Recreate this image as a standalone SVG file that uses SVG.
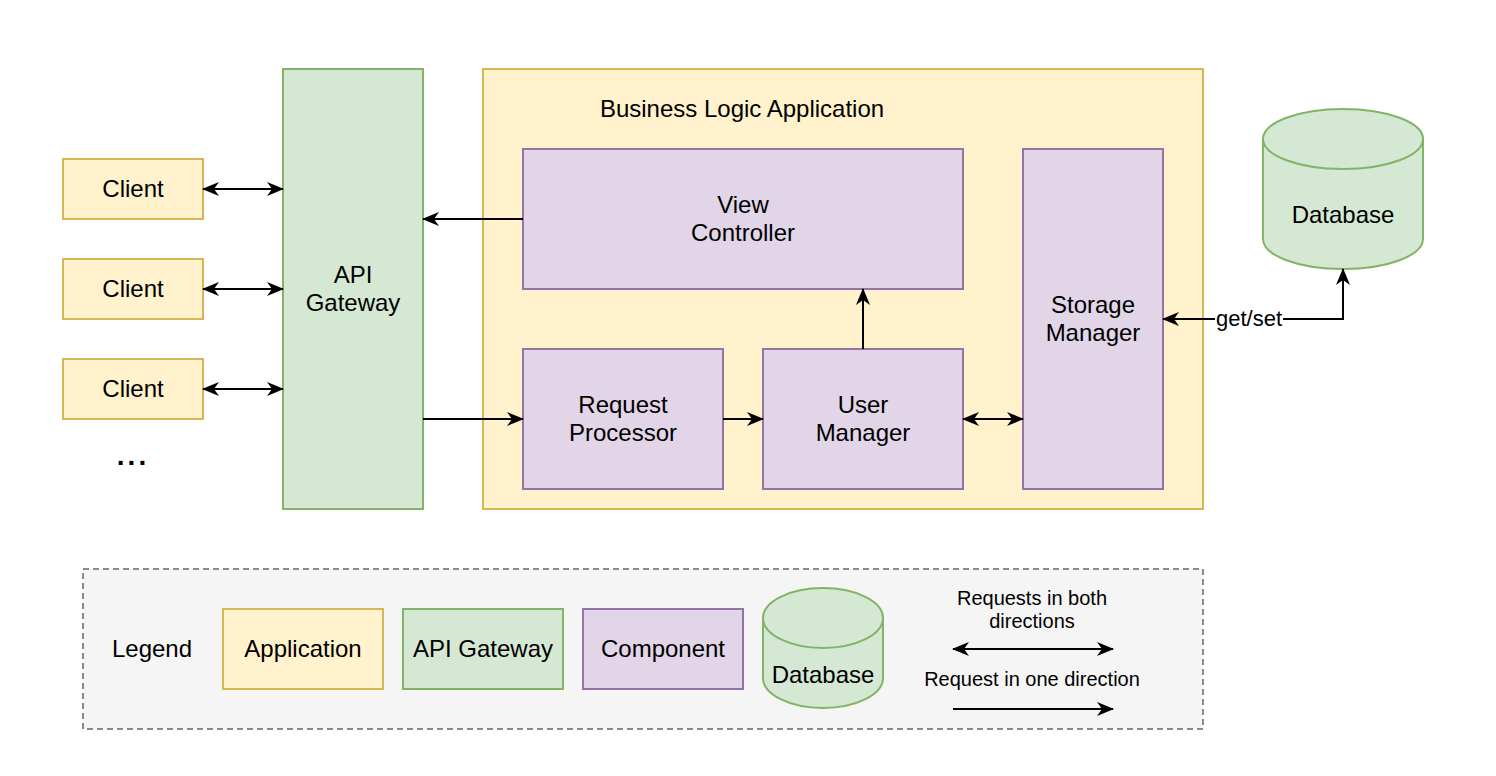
<svg xmlns="http://www.w3.org/2000/svg" width="1496" height="776" viewBox="0 0 1496 776">
<defs>
<style>
text{font-family:"Liberation Sans",Arial,Helvetica,sans-serif;fill:#000;}
.t{font-size:24px;text-anchor:middle;dominant-baseline:central;}
.s{font-size:20px;text-anchor:middle;dominant-baseline:central;}
.app{fill:#fff2cc;stroke:#d6b656;stroke-width:2;}
.gw{fill:#d5e8d4;stroke:#82b366;stroke-width:2;}
.cmp{fill:#e1d5e7;stroke:#9673a6;stroke-width:2;}
.e{fill:none;stroke:#000;stroke-width:2;}
</style>
<marker id="ah" viewBox="0 0 17 14" refX="16" refY="7" markerWidth="17" markerHeight="14" markerUnits="userSpaceOnUse" orient="auto-start-reverse">
<path d="M0,0 L17,7 L0,14 L5,7 z" fill="#000"/>
</marker>
</defs>
<rect width="1496" height="776" fill="#fff"/>

<g id="clients">
<g id="client1"><rect class="app" x="63" y="159" width="140" height="60"/><text class="t" x="133" y="188">Client</text></g>
<g id="client2"><rect class="app" x="63" y="259" width="140" height="60"/><text class="t" x="133" y="288">Client</text></g>
<g id="client3"><rect class="app" x="63" y="359" width="140" height="60"/><text class="t" x="133" y="388">Client</text></g>
<g id="ellipsis"><text x="133" y="465" style="font-size:28px;font-weight:bold;text-anchor:middle;letter-spacing:3px;">...</text></g>
</g>

<g id="api-gateway"><rect class="gw" x="283" y="69" width="140" height="440"/><text class="t" x="353" y="274">API</text><text class="t" x="353" y="302">Gateway</text></g>

<g id="business-logic"><rect class="app" x="483" y="69" width="720" height="440"/><text class="t" x="742" y="108">Business Logic Application</text></g>

<g id="view-controller"><rect class="cmp" x="523" y="149" width="440" height="140"/><text class="t" x="743" y="204">View</text><text class="t" x="743" y="232">Controller</text></g>

<g id="storage-manager"><rect class="cmp" x="1023" y="149" width="140" height="340"/><text class="t" x="1093" y="304">Storage</text><text class="t" x="1093" y="332">Manager</text></g>

<g id="request-processor"><rect class="cmp" x="523" y="349" width="200" height="140"/><text class="t" x="623" y="404">Request</text><text class="t" x="623" y="432">Processor</text></g>

<g id="user-manager"><rect class="cmp" x="763" y="349" width="200" height="140"/><text class="t" x="863" y="404">User</text><text class="t" x="863" y="432">Manager</text></g>

<g id="database">
<path class="gw" d="M1263,139 A80,30 0 0 1 1423,139 L1423,239 A80,30 0 0 1 1263,239 Z"/>
<path d="M1263,139 A80,30 0 0 0 1423,139" fill="none" stroke="#82b366" stroke-width="2"/>
<text class="t" x="1343" y="214">Database</text>
</g>

<g id="connectors">
<line class="e" x1="203" y1="189" x2="283" y2="189" marker-start="url(#ah)" marker-end="url(#ah)"/>
<line class="e" x1="203" y1="289" x2="283" y2="289" marker-start="url(#ah)" marker-end="url(#ah)"/>
<line class="e" x1="203" y1="389" x2="283" y2="389" marker-start="url(#ah)" marker-end="url(#ah)"/>
<line class="e" x1="523" y1="219" x2="423" y2="219" marker-end="url(#ah)"/>
<line class="e" x1="423" y1="419" x2="523" y2="419" marker-end="url(#ah)"/>
<line class="e" x1="723" y1="419" x2="763" y2="419" marker-end="url(#ah)"/>
<line class="e" x1="863" y1="349" x2="863" y2="289" marker-end="url(#ah)"/>
<line class="e" x1="963" y1="419" x2="1023" y2="419" marker-start="url(#ah)" marker-end="url(#ah)"/>
<path class="e" d="M1163,319 L1343,319 L1343,269" marker-start="url(#ah)" marker-end="url(#ah)"/>
<rect x="1215" y="306" width="68" height="26" fill="#fff"/>
<text class="s" x="1249" y="318" style="font-size:22px">get/set</text>
</g>

<g id="legend">
<rect x="83" y="569" width="1120" height="160" fill="#f5f5f5" stroke="#666" stroke-width="1.5" stroke-dasharray="6 4"/>
<text class="t" x="152" y="648">Legend</text>
<g id="legend-application"><rect class="app" x="223" y="609" width="160" height="80"/><text class="t" x="303" y="648">Application</text></g>
<g id="legend-gateway"><rect class="gw" x="403" y="609" width="160" height="80"/><text class="t" x="483" y="648">API Gateway</text></g>
<g id="legend-component"><rect class="cmp" x="583" y="609" width="160" height="80"/><text class="t" x="663" y="648">Component</text></g>
<g id="legend-database">
<path class="gw" d="M763,618 A60,30 0 0 1 883,618 L883,678 A60,30 0 0 1 763,678 Z"/>
<path d="M763,618 A60,30 0 0 0 883,618" fill="none" stroke="#82b366" stroke-width="2"/>
<text class="t" x="823" y="674">Database</text>
</g>
<g id="legend-arrows">
<text class="s" x="1032" y="598">Requests in both</text>
<text class="s" x="1032" y="621">directions</text>
<line class="e" x1="953" y1="649" x2="1113" y2="649" marker-start="url(#ah)" marker-end="url(#ah)"/>
<text class="s" x="1032" y="679">Request in one direction</text>
<line class="e" x1="953" y1="709" x2="1113" y2="709" marker-end="url(#ah)"/>
</g>
</g>
</svg>
